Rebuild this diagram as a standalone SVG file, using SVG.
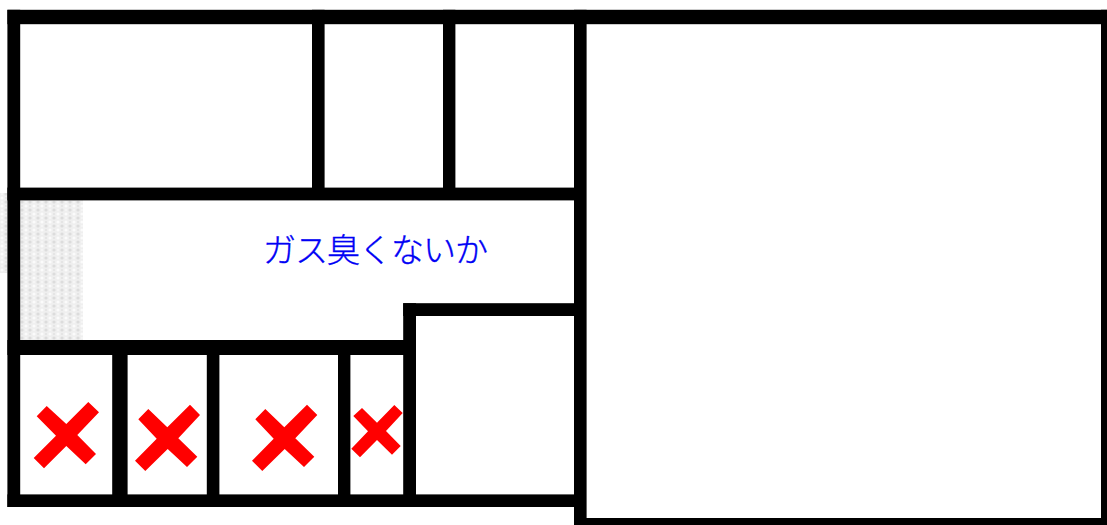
<svg xmlns="http://www.w3.org/2000/svg" width="1107" height="525" viewBox="0 0 1107 525">
<style>
.wall{fill:#000}
.x{fill:#f00}
.t{font-family:"Noto Sans CJK JP","Noto Sans",sans-serif;font-size:33px;font-weight:300;fill:#0000f5;stroke:#0000f5;stroke-width:.4}
</style>
<defs>
<pattern id="dots" width="8" height="8" patternUnits="userSpaceOnUse" patternTransform="translate(20 200)">
<rect width="8" height="8" fill="#efefef"/>
<circle cx="2" cy="2" r="1.6" fill="#dcdcdc"/>
<circle cx="6" cy="6" r="1.6" fill="#fbfbfb"/>
<circle cx="6" cy="2" r="1" fill="#f8f8f8"/>
<circle cx="2" cy="6" r="1" fill="#e2e2e2"/>
</pattern>
</defs>
<rect width="1107" height="525" fill="#fff"/>
<g id="shading">
<rect x="20" y="200" width="63" height="140" fill="url(#dots)"/>
<rect x="0" y="193" width="7.5" height="80" fill="url(#dots)"/>
</g>
<g id="walls">
<rect class="wall" x="7.4" y="9.8" width="1099.6" height="14.4"/>
<rect class="wall" x="7.4" y="9.8" width="12.8" height="497.2"/>
<rect class="wall" x="1101" y="9.8" width="6" height="515.2"/>
<rect class="wall" x="574" y="9.8" width="12.6" height="515.2"/>
<rect class="wall" x="574" y="518" width="533" height="7"/>
<rect class="wall" x="7.4" y="187.6" width="566.6" height="12.8"/>
<rect class="wall" x="312" y="9.8" width="12.6" height="190"/>
<rect class="wall" x="443" y="9.8" width="12.4" height="190"/>
<rect class="wall" x="403.2" y="303.2" width="170.8" height="12.8"/>
<rect class="wall" x="403.2" y="303.2" width="12.8" height="203.8"/>
<rect class="wall" x="7.4" y="340" width="408" height="15"/>
<rect class="wall" x="7.4" y="494.4" width="566.6" height="12.6"/>
<rect class="wall" x="112.2" y="340" width="15.4" height="160"/>
<rect class="wall" x="206.8" y="340" width="12.6" height="160"/>
<rect class="wall" x="338" y="340" width="12.4" height="160"/>
</g>
<g id="label"><text class="t" x="263" y="261.5" textLength="225" lengthAdjust="spacing">ガス臭くないか</text></g>
<g id="marks">
<polygon class="x" points="36.7,416.3 46.7,406 66.3,424 88.3,402 99,412.3 77.3,435 96,454 85.7,464.3 66.3,446 44,468.3 33.7,458 56,435.7"/>
<polygon class="x" points="138.3,419.3 148.3,409 167.3,427.3 190,404.7 200,415 178.3,438.3 197.3,456.7 187,467 167.7,449 145.3,471 135,460.7 156.7,438.7"/>
<polygon class="x" points="255.3,419.3 265.3,409 284.3,427.3 307,404.7 317.3,415 295.3,438.3 314.3,456.7 304,467 284.7,449 262.3,471 252,460.7 273.7,438.7"/>
<polygon class="x" points="353.3,416 362,408 377,422.7 394.3,405 402.7,413 386,431 400.7,446 392,454.7 377,440 360,457.3 351.3,448.7 368,431.3"/>
</g>
</svg>
